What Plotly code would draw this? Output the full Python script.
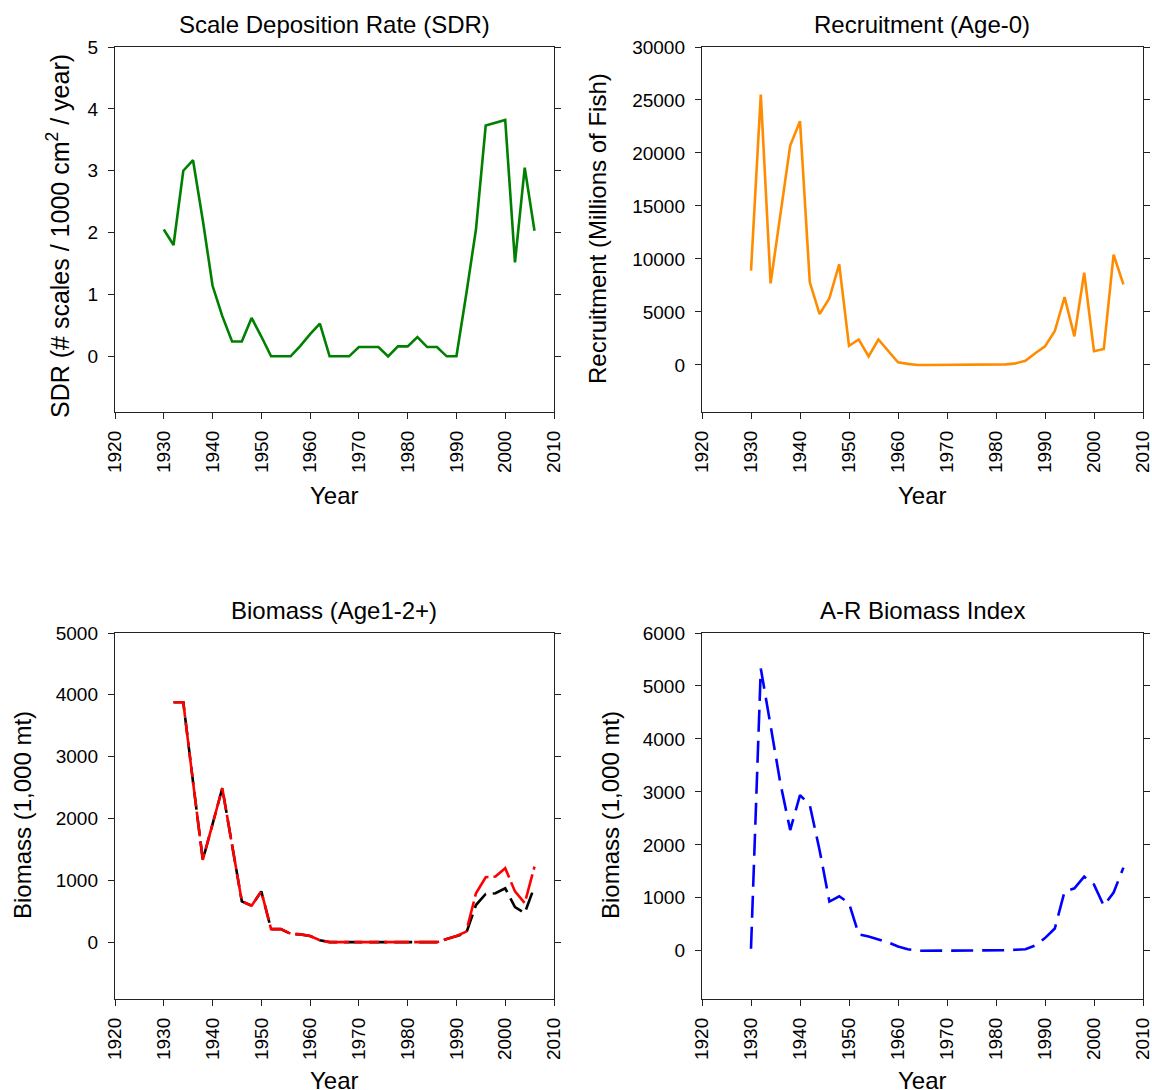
import plotly.graph_objects as go

# ---------------- data ----------------
years_sdr = list(range(1930, 2007, 2))
sdr = [2.05, 1.80, 3.00, 3.17, 2.20, 1.14, 0.65, 0.24, 0.24, 0.62,
       0.32, 0.00, 0.00, 0.00, 0.17, 0.36, 0.53, 0.00, 0.00, 0.00,
       0.15, 0.15, 0.15, 0.00, 0.16, 0.16, 0.31, 0.15, 0.15, 0.00,
       0.00, 1.00, 2.05, 3.73, 3.77, 3.82, 1.52, 3.05, 2.03]

years_rec = list(range(1930, 2007, 2))
recruitment = [8900, 25500, 7700, 14000, 20700, 23000, 7800, 4800, 6300, 9500,
               1800, 2400, 800, 2400, 1300, 250, 100, 0, 0, 0,
               0, 0, 0, 0, 0, 0, 50, 150, 400, 1100,
               1750, 3200, 6400, 2700, 8700, 1300, 1500, 10400, 7600]

years_bio = list(range(1932, 2007, 2))
biomass_red = [3880, 3880, 2590, 1330, 1910, 2490, 1570, 660, 590, 820,
               210, 210, 135, 125, 100, 30, 0, 0, 0, 0,
               0, 0, 0, 0, 0, 0, 0, 0, 50, 100,
               170, 790, 1050, 1060, 1195, 820, 630, 1220]
biomass_black = [3880, 3880, 2590, 1330, 1910, 2490, 1570, 660, 590, 820,
                 210, 210, 135, 125, 100, 30, 0, 0, 0, 0,
                 0, 0, 0, 0, 0, 0, 0, 0, 50, 100,
                 145, 600, 780, 790, 870, 565, 470, 900]

years_ar = list(range(1930, 2007, 2))
ar_index = [40, 5330, 4250, 3160, 2280, 2940, 2750, 1900, 930, 1030,
            900, 310, 270, 220, 160, 80, 30, 0, 0, 0,
            0, 0, 0, 0, 0, 0, 10, 20, 30, 100,
            240, 420, 1120, 1180, 1400, 1250, 850, 1100, 1570]

x_ticks = list(range(1920, 2011, 10))

# ---------------- layout helpers ----------------
W, H = 1152, 1090
FONT = "Arial, Liberation Sans, sans-serif"
TICKF = 19
TITLEF = 24

def px_x(p):
    return p / W

def px_y(p):
    return 1 - p / H

# plot areas in window pixels (left, right, top, bottom)
areas = {
    1: (115, 554, 47, 412),
    2: (702, 1143, 47, 412),
    3: (115, 554, 633, 999),
    4: (702, 1143, 633, 999),
}

fig = go.Figure()

fig.add_trace(go.Scatter(x=years_sdr, y=sdr, mode="lines",
                         line=dict(color="#008000", width=2.6),
                         xaxis="x", yaxis="y", showlegend=False))
fig.add_trace(go.Scatter(x=years_rec, y=recruitment, mode="lines",
                         line=dict(color="#FF8C00", width=2.6),
                         xaxis="x2", yaxis="y2", showlegend=False))
fig.add_trace(go.Scatter(x=years_bio, y=biomass_black, mode="lines",
                         line=dict(color="#000000", width=2.6, dash="18px,7px"),
                         xaxis="x3", yaxis="y3", showlegend=False))
fig.add_trace(go.Scatter(x=years_bio, y=biomass_red, mode="lines",
                         line=dict(color="#FF0000", width=2.6, dash="25px,5px"),
                         xaxis="x3", yaxis="y3", showlegend=False))
fig.add_trace(go.Scatter(x=years_ar, y=ar_index, mode="lines",
                         line=dict(color="#0000FF", width=2.6, dash="22px,9px"),
                         xaxis="x4", yaxis="y4", showlegend=False))

yranges = {1: [-0.9, 5], 2: [-4440, 30000], 3: [-920, 5000], 4: [-910, 6000]}
ydticks = {1: 1, 2: 5000, 3: 1000, 4: 1000}

layout = dict(
    width=W, height=H,
    margin=dict(l=0, r=0, t=0, b=0),
    paper_bgcolor="white", plot_bgcolor="white",
    font=dict(family=FONT, size=TICKF, color="black"),
    showlegend=False,
)

for i in range(1, 5):
    l, r, t, b = areas[i]
    sx = "" if i == 1 else str(i)
    layout["xaxis" + sx] = dict(
        domain=[px_x(l), px_x(r)], anchor="y" + sx,
        range=[1920, 2010], tickvals=x_ticks, tickangle=-90,
        ticks="outside", ticklen=6, tickwidth=1.3, tickcolor="#222",
        showline=True, linecolor="#222", linewidth=1.4, mirror=True,
        showgrid=False, zeroline=False, automargin=False,
        tickfont=dict(family=FONT, size=TICKF, color="black"),
        ticklabelstandoff=4, ticklabeloverflow="allow",
    )
    layout["yaxis" + sx] = dict(
        domain=[px_y(b), px_y(t)], anchor="x" + sx,
        range=yranges[i], tick0=0, dtick=ydticks[i], tickformat="d",
        ticks="outside", ticklen=6, tickwidth=1.3, tickcolor="#222",
        showline=True, linecolor="#222", linewidth=1.4, mirror="ticks",
        showgrid=False, zeroline=False, automargin=False,
        tickfont=dict(family=FONT, size=TICKF, color="black"),
        ticklabelstandoff=6,
    )

annotations = []

def ann(text, xp, yp, angle=0, size=TITLEF):
    annotations.append(dict(text=text, x=px_x(xp), y=px_y(yp),
                            xref="paper", yref="paper", showarrow=False,
                            textangle=angle, xanchor="center", yanchor="middle",
                            font=dict(family=FONT, size=size, color="black")))

# panel titles
ann("Scale Deposition Rate (SDR)", 334, 25)
ann("Recruitment (Age-0)", 922, 25)
ann("Biomass (Age1-2+)", 334, 610)
ann("A-R Biomass Index", 922, 610)
# x axis titles
ann("Year", 334, 495)
ann("Year", 922, 495)
ann("Year", 334, 1080)
ann("Year", 922, 1080)
# y axis titles
ann("SDR (# scales / 1000 cm<sup>2</sup> / year)", 58, 236, -90, 25)
ann("Recruitment (Millions of Fish)", 598, 229, -90)
ann("Biomass (1,000 mt)", 22, 815, -90)
ann("Biomass (1,000 mt)", 610, 815, -90)

layout["annotations"] = annotations
fig.update_layout(**layout)

fig.write_html("out.html",
               config={"displayModeBar": False},
               post_script="document.body.style.margin='0px';"
                           "document.body.style.overflow='hidden';")
